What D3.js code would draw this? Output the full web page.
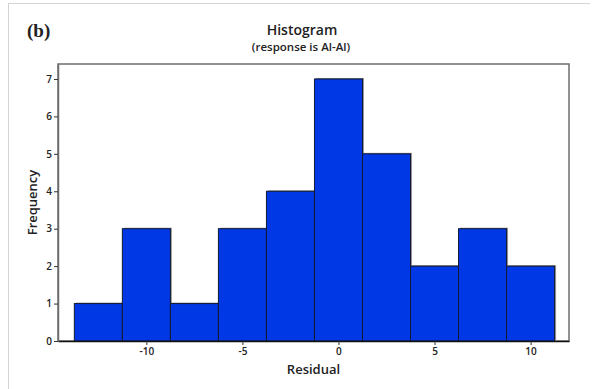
<!DOCTYPE html>
<html>
<head>
<meta charset="utf-8">
<script src="https://cdn.jsdelivr.net/npm/d3@7"></script>
<style>
  body { margin: 0; background: #fff; }
  svg text { font-family: "Open Sans", "Noto Sans", sans-serif; fill: #222; }
</style>
</head>
<body>
<div id="chart"></div>
<script>
// residual bins (midpoints) and their counts
const binMids = [-12.5, -10, -7.5, -5, -2.5, 0, 2.5, 5, 7.5, 10];
const binWidth = 2.5;
const frequencies = [1, 3, 1, 3, 4, 7, 5, 2, 3, 2];
const xTicks = [-10, -5, 0, 5, 10];
const yTicks = [0, 1, 2, 3, 4, 5, 6, 7];

const width = 592, height = 389;
const margin = { top: 64, right: 23, bottom: 48, left: 58 };

const svg = d3.select('#chart').append('svg')
  .attr('width', width)
  .attr('height', height);

// light page border (top + left)
svg.append('line')
  .attr('x1', 8).attr('y1', 3.5).attr('x2', 590).attr('y2', 3.5)
  .attr('stroke', '#d4d4d4');
svg.append('line')
  .attr('x1', 8.5).attr('y1', 3).attr('x2', 8.5).attr('y2', height)
  .attr('stroke', '#d4d4d4');

const x = d3.scaleLinear()
  .domain([-14.6, 12.0])
  .range([margin.left, width - margin.right]);

const y = d3.scaleLinear()
  .domain([0, 7.4])
  .range([height - margin.bottom, margin.top]);

const bins = binMids.map((m, i) => ({ x0: m - binWidth / 2, x1: m + binWidth / 2, n: frequencies[i] }));

// plot frame
svg.append('rect')
  .attr('x', x.range()[0])
  .attr('y', y.range()[1])
  .attr('width', x.range()[1] - x.range()[0])
  .attr('height', y.range()[0] - y.range()[1])
  .attr('fill', 'none')
  .attr('stroke', '#6e6e6e')
  .attr('stroke-width', 1.5);

// bar shadows
svg.append('g').selectAll('rect')
  .data(bins)
  .enter()
  .append('rect')
  .attr('x', d => x(d.x0) + 1.5)
  .attr('y', d => y(d.n) - 1)
  .attr('width', d => x(d.x1) - x(d.x0))
  .attr('height', d => y(0) - y(d.n))
  .attr('fill', '#999');

// bars
svg.append('g').selectAll('rect')
  .data(bins)
  .enter()
  .append('rect')
  .attr('x', d => x(d.x0))
  .attr('y', d => y(d.n))
  .attr('width', d => x(d.x1) - x(d.x0))
  .attr('height', d => y(0) - y(d.n))
  .attr('fill', '#0038e6')
  .attr('stroke', '#111a33')
  .attr('stroke-width', 1);

// axes (plain hyphen for negatives, like the original)
const xAxis = svg.append('g')
  .attr('transform', `translate(0,${y(0)})`)
  .call(d3.axisBottom(x).tickValues(xTicks).tickFormat(d => String(d))
    .tickSize(4).tickSizeOuter(0).tickPadding(3));

const yAxis = svg.append('g')
  .attr('transform', `translate(${x.range()[0]},0)`)
  .call(d3.axisLeft(y).tickValues(yTicks).tickFormat(d => String(d))
    .tickSize(4).tickSizeOuter(0).tickPadding(2));

[xAxis, yAxis].forEach(a => {
  a.select('.domain').attr('stroke', '#6e6e6e').attr('stroke-width', 1.5);
  a.selectAll('.tick line').attr('stroke', '#333');
  a.selectAll('.tick text')
    .style('font-family', '"Open Sans", sans-serif')
    .style('font-size', '10px')
    .style('font-weight', 600)
    .attr('fill', '#222');
});
xAxis.select('.domain').attr('stroke', '#111');

// titles
svg.append('text')
  .attr('x', 302).attr('y', 35)
  .attr('text-anchor', 'middle')
  .style('font-size', '14px').style('font-weight', 600)
  .text('Histogram');

svg.append('text')
  .attr('x', 301).attr('y', 51)
  .attr('text-anchor', 'middle')
  .style('font-size', '11.5px').style('font-weight', 600)
  .text('(response is Al-Al)');

svg.append('text')
  .attr('x', 27).attr('y', 37)
  .style('font-family', '"Liberation Serif", "DejaVu Serif", serif')
  .style('font-size', '19px').style('font-weight', 700)
  .attr('fill', '#000')
  .text('(b)');

// axis labels
svg.append('text')
  .attr('x', (x.range()[0] + x.range()[1]) / 2).attr('y', 374)
  .attr('text-anchor', 'middle')
  .style('font-size', '13px').style('font-weight', 600)
  .text('Residual');

svg.append('text')
  .attr('transform', `translate(37,${(y.range()[0] + y.range()[1]) / 2}) rotate(-90)`)
  .attr('text-anchor', 'middle')
  .style('font-size', '13px').style('font-weight', 600)
  .text('Frequency');
</script>
</body>
</html>
